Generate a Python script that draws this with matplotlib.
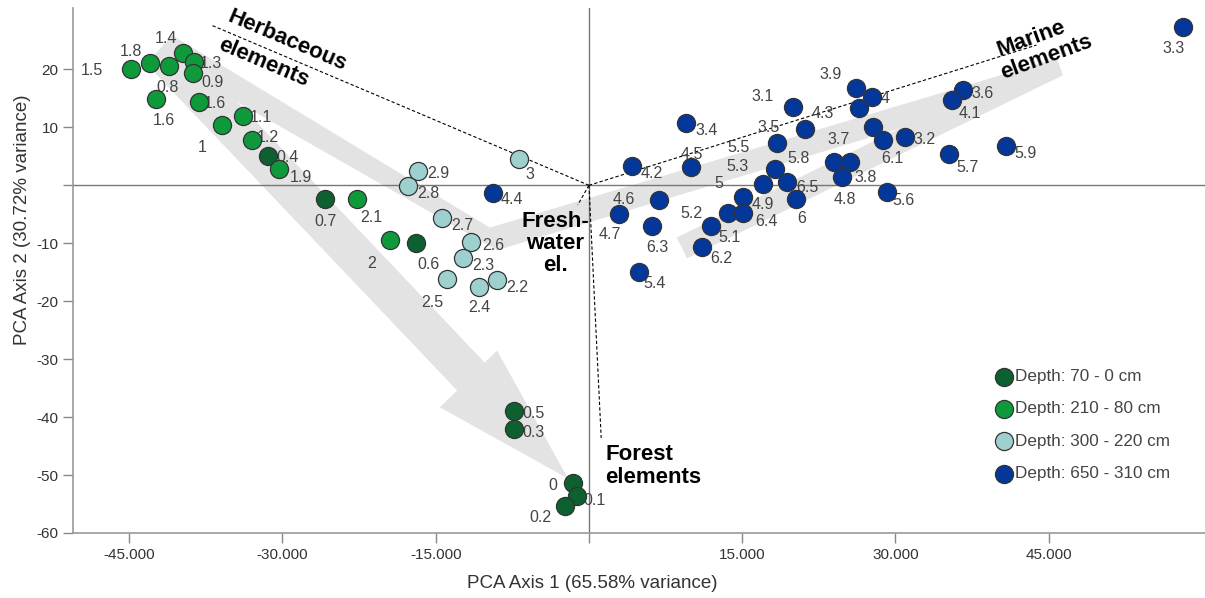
import matplotlib
matplotlib.use('Agg')
import matplotlib.pyplot as plt
from matplotlib.patches import Polygon

plt.rcParams['font.family'] = ['Liberation Sans', 'DejaVu Sans']

# группы проб по глубине
group_names = ['Depth: 70 - 0 cm', 'Depth: 210 - 80 cm', 'Depth: 300 - 220 cm', 'Depth: 650 - 310 cm']
group_colors = ['#0d6030', '#0e9a3a', '#9fd0d0', '#04379a']

labels_0 = ['0.4', '0.7', '0.6', '0.5', '0.3', '0', '0.1', '0.2']
x_0 = [-31.4, -25.8, -16.9, -7.3, -7.3, -1.6, -1.2, -2.3]
y_0 = [5.0, -2.4, -10.0, -39.0, -42.0, -51.3, -53.7, -55.4]

labels_1 = ['1.5', '1.8', '0.8', '1.4', '1.3', '0.9', '1.6', '1.6', '1', '1.1', '1.2', '1.9', '2.1', '2']
x_1 = [-44.8, -43.0, -41.1, -39.7, -38.7, -38.8, -42.4, -38.2, -35.9, -33.9, -33.0, -30.3, -22.7, -19.5]
y_1 = [20.0, 21.1, 20.6, 22.8, 21.2, 19.3, 14.9, 14.3, 10.4, 11.9, 7.9, 2.9, -2.4, -9.5]

labels_2 = ['2.9', '2.8', '3', '2.7', '2.6', '2.3', '2.5', '2.4', '2.2']
x_2 = [-16.7, -17.7, -6.8, -14.4, -11.5, -12.3, -13.9, -10.8, -9.0]
y_2 = [2.4, -0.2, 4.5, -5.7, -9.7, -12.6, -16.1, -17.6, -16.4]

labels_3 = ['4.4', '3.1', '3.2', '3.3', '3.4', '3.5', '3.6', '3.7', '3.8', '3.9', '4', '4.1', '4.2',
            '4.3', '4.5', '4.6', '4.7', '4.8', '4.9', '5', '5.1', '5.2', '5.3', '5.4', '5.5', '5.6',
            '5.7', '5.8', '5.9', '6', '6.1', '6.2', '6.3', '6.4', '6.5']
x_3 = [-9.4, 20.0, 30.9, 58.1, 9.5, 21.1, 36.6, 24.0, 25.6, 26.1, 27.7, 35.5, 4.2,
       26.4, 10.0, 6.9, 2.9, 24.8, 15.1, 17.0, 13.6, 11.9, 18.2, 4.9, 18.4, 29.2,
       35.2, 27.8, 40.8, 20.3, 28.8, 11.1, 6.2, 15.1, 19.4]
y_3 = [-1.4, 13.6, 8.3, 27.3, 10.7, 9.7, 16.4, 4.1, 4.1, 16.8, 15.2, 14.7, 3.3,
       13.3, 3.1, -2.6, -5.0, 1.4, -2.1, 0.3, -4.8, -7.1, 2.8, -15.0, 7.3, -1.2,
       5.4, 10.0, 6.7, -2.4, 7.8, -10.7, -7.1, -4.8, 0.5]

# сдвиг подписей в пикселях (вправо, вниз)
offsets_0 = [(19, 1), (0, 22), (12, 21), (19, 2), (19, 4), (-20, 3), (18, 4), (-25, 11)]
offsets_1 = [(-39, 1), (-19, -12), (-1, 22), (-17, -15), (17, 1), (20, 9), (8, 22), (16, 1),
             (-20, 22), (18, 1), (16, -2), (21, 9), (14, 18), (-18, 23)]
offsets_2 = [(20, 2), (20, 7), (10, 15), (20, 7), (22, 4), (20, 7), (-15, 24), (1, 20), (20, 7)]
offsets_3 = [(19, 6), (-31, -10), (20, 2), (-9, 21), (21, 7), (-36, -2), (20, 3), (4, -22), (15, 16),
             (-25, -13), (13, 1), (18, 13), (20, 7), (-36, 5), (1, -13), (-36, -1), (-9, 20),
             (3, 22), (20, 7), (-44, 0), (2, 24), (-19, -13), (-37, -3), (16, 11), (-38, 4),
             (16, 8), (19, 13), (-74, 31), (20, 7), (5, 19), (9, 18), (19, 11), (5, 21), (23, 8),
             (20, 5)]

# серые стрелки-тренды (координаты осей PCA)
forest_arrow = [(-40.6, 25.9), (-10.2, -30.6), (-9.0, -28.5), (-2.05, -50.6),
                (-14.6, -38.3), (-12.9, -35.4), (-43.4, 21.1)]
chevron_band = [(-40.8, 25.9), (-9.7, -7.3), (45.8, 21.9), (46.4, 19.0), (9.6, -12.6),
                (8.6, -9.0), (30.4, 9.8), (-9.0, -11.2), (-42.5, 22.5)]

# направления групп элементов
vectors = [(-36.9, 27.6), (43.8, 24.2), (1.2, -43.6), (-1.1, -3.4)]


def draw_points(ax, xs, ys, labels, offsets, color, name):
    ax.scatter(xs, ys, s=170, color=color, edgecolors='#333333', linewidths=0.9,
               zorder=5, label=name)
    for x, y, t, (dx, dy) in zip(xs, ys, labels, offsets):
        ax.annotate(t, (x, y), xytext=(dx, -dy), textcoords='offset pixels',
                    ha='center', va='center', fontsize=11.5, color='#444444', zorder=4)


def main():
    fig = plt.figure(figsize=(12.05, 5.98), dpi=100)
    ax = fig.add_axes([73 / 1205, 65 / 598, 1132 / 1205, 525 / 598])

    ax.add_patch(Polygon(forest_arrow, closed=True, facecolor='#e3e3e3', edgecolor='none', zorder=0))
    ax.add_patch(Polygon(chevron_band, closed=True, facecolor='#e3e3e3', edgecolor='none', zorder=0))

    ax.axhline(0, color='#777777', lw=1, zorder=1)
    ax.axvline(0, color='#777777', lw=1, zorder=1)
    for vx, vy in vectors:
        ax.plot([0, vx], [0, vy], color='black', lw=0.8, ls=(0, (3, 2)), zorder=2)

    groups = [(x_0, y_0, labels_0, offsets_0), (x_1, y_1, labels_1, offsets_1),
              (x_2, y_2, labels_2, offsets_2), (x_3, y_3, labels_3, offsets_3)]
    for (xs, ys, labels, offsets), color, name in zip(groups, group_colors, group_names):
        draw_points(ax, xs, ys, labels, offsets, color, name)

    bold = dict(fontsize=16, fontweight='bold', color='black', ha='center', va='center',
                rotation_mode='anchor', zorder=6)
    ax.text(-29.5, 25.0, 'Herbaceous', rotation=-23, **bold)
    ax.text(-31.9, 21.2, 'elements', rotation=-23, **bold)
    ax.text(43.3, 25.3, 'Marine', rotation=20, **bold)
    ax.text(44.8, 22.0, 'elements', rotation=20, **bold)
    ax.text(-3.3, -10.0, 'Fresh-\nwater\nel.', fontsize=16, fontweight='bold', ha='center',
            va='center', linespacing=1.05, zorder=6)
    ax.text(1.6, -48.4, 'Forest\nelements', fontsize=16, fontweight='bold', ha='left',
            va='center', linespacing=1.1, zorder=6)

    ax.set_xlim(-50.5, 60.3)
    ax.set_ylim(-60, 30.6)
    ax.set_xticks([-45, -30, -15, 0, 15, 30, 45])
    ax.set_xticklabels(['-45.000', '-30.000', '-15.000', '', '15.000', '30.000', '45.000'])
    ax.set_yticks([20, 10, 0, -10, -20, -30, -40, -50, -60])
    ax.set_yticklabels(['20', '10', '', '-10', '-20', '-30', '-40', '-50', '-60'])
    ax.tick_params(direction='out', length=7, color='#888888', labelsize=11,
                   labelcolor='#333333', width=1)
    for side in ['top', 'right']:
        ax.spines[side].set_visible(False)
    for side in ['left', 'bottom']:
        ax.spines[side].set_color('#999999')
        ax.spines[side].set_linewidth(1.2)

    ax.set_xlabel('PCA Axis 1 (65.58% variance)', fontsize=13.5, color='#333333')
    ax.set_ylabel('PCA Axis 2 (30.72% variance)', fontsize=13.5, color='#333333')
    ax.xaxis.set_label_coords(0.4585, -0.08)
    ax.yaxis.set_label_coords(-0.037, 0.596)

    leg = ax.legend(loc='upper left', bbox_to_anchor=(995 / 1205, 1 - 369 / 598),
                    bbox_transform=fig.transFigure, frameon=False, fontsize=12.3,
                    handletextpad=0.05, labelspacing=1.02, borderpad=0, borderaxespad=0,
                    handlelength=1.1, scatterpoints=1)
    for t in leg.get_texts():
        t.set_color('#444444')

    fig.savefig('out.png', dpi=100)


if __name__ == '__main__':
    main()
